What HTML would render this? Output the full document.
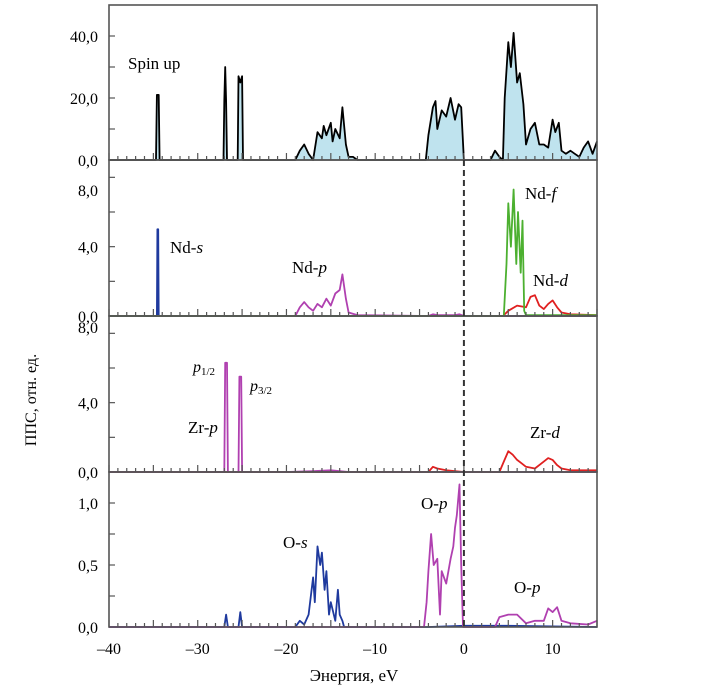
<!DOCTYPE html>
<html><head><meta charset="utf-8"><style>
body{margin:0;background:#fff;width:706px;height:694px;overflow:hidden}
svg text{font-family:"Liberation Serif",serif;fill:#000}
</style></head><body>
<svg id="c" width="706" height="694"></svg>
<script>
// ---- data (energy eV, value) ----
const xTicks=[-40,-30,-20,-10,0,10];
const totalE=[-40,-34.7,-34.6,-34.4,-34.3,-27.1,-27.0,-26.9,-26.8,-26.7,-25.5,-25.4,-25.2,-25.0,-24.9,-19,-18.5,-18,-17.5,-17,-16.5,-16,-15.8,-15.5,-15,-14.8,-14.5,-14,-13.7,-13.3,-13,-12.5,-12,-4.3,-4,-3.5,-3.2,-3,-2.5,-2,-1.5,-1,-0.6,-0.3,0,3,3.5,4,4.4,4.6,5,5.3,5.6,6,6.3,6.7,7,7.5,8,8.5,9,9.5,10,10.3,10.7,11,11.5,12,12.5,13,13.5,14,14.5,15];
const totalV=[0,0,21,21,0,0,19,30,19,0,0,27,25,27,0,0,3,5,2,0,9,7,11,8,12,6,10,7,17,5,1,1,0,0,8,17,19,10,16,14,20,13,18,17,0,0,3,1,0,20,38,30,41,25,28,18,5,10,12,5,5,4,13,9,12,3,2,3,2,1,4,6,2,6];
const ndS_E=[-40,-34.6,-34.55,-34.45,-34.4,15];
const ndS_V=[0,0,5.0,5.0,0,0];
const ndP_E=[-40,-19,-18.5,-18,-17.5,-17,-16.5,-16,-15.5,-15,-14.5,-14,-13.7,-13.3,-13,-12,-4,-3.5,-3,-1,-0.5,0,15];
const ndP_V=[0,0,0.5,0.8,0.5,0.3,0.7,0.5,1.0,0.6,1.3,1.5,2.4,1.0,0.2,0.05,0,0.1,0.05,0.05,0.1,0,0];
const ndF_E=[-40,4.5,4.8,5.0,5.3,5.6,5.9,6.1,6.4,6.6,6.8,7,15];
const ndF_V=[0,0,3,6.5,4,7.3,3,6,2.5,5.5,0.3,0.05,0.05];
const ndD_E=[4.5,5,6,7,7.5,8,8.5,9,9.5,10,10.5,11,12,15];
const ndD_V=[0.05,0.3,0.6,0.5,1.1,1.2,0.6,0.4,0.7,0.9,0.5,0.2,0.1,0.05];
const zrP_E=[-40,-27.0,-26.9,-26.7,-26.6,-25.4,-25.3,-25.1,-25.0,-20,-17,-15,-13,15];
const zrP_V=[0,0,6.3,6.3,0,0,5.5,5.5,0,0,0.05,0.1,0,0];
const zrD_E=[-40,-4,-3.5,-3,-2,0,4,4.5,5,5.5,6,6.5,7,8,9,9.5,10,10.5,11,12,15];
const zrD_V=[0,0,0.3,0.2,0.1,0,0,0.6,1.2,1.0,0.7,0.5,0.3,0.2,0.6,0.8,0.7,0.4,0.2,0.1,0.1];
const oS_E=[-40,-27,-26.8,-26.6,-25.4,-25.2,-25.0,-19,-18.5,-18,-17.5,-17,-16.8,-16.5,-16.2,-16,-15.7,-15.5,-15.2,-15,-14.5,-14.2,-14,-13.7,-13.5,-4,0,5,15];
const oS_V=[0,0,0.1,0,0,0.12,0,0,0.05,0.02,0.1,0.4,0.2,0.65,0.5,0.6,0.3,0.45,0.1,0.2,0.05,0.3,0.1,0.05,0,0,0.01,0.01,0];
const oP_E=[-40,-4.5,-4.2,-4,-3.7,-3.4,-3,-2.7,-2.5,-2,-1.5,-1.2,-1,-0.8,-0.5,-0.3,-0.1,3.5,4,5,6,7,8,9,9.5,10,10.5,11,12,14,15];
const oP_V=[0,0,0.2,0.45,0.75,0.5,0.55,0.1,0.45,0.35,0.55,0.65,0.8,0.9,1.15,0.5,0,0,0.08,0.1,0.1,0.03,0.05,0.05,0.15,0.12,0.16,0.05,0.03,0.02,0.05];

const NS='http://www.w3.org/2000/svg';
const svg=document.getElementById('c');
const X0=109,X1=597;
const xs=e=>X0+(e+40)*(X1-X0)/55;
function mk(tag,attrs,parent){const el=document.createElementNS(NS,tag);for(const k in attrs)el.setAttribute(k,attrs[k]);(parent||svg).appendChild(el);return el;}
const panels=[
 {top:5,bot:160,max:50,step:10,ticks:[0,20,40],lab:['0,0','20,0','40,0'],labY:[null,null,null]},
 {top:160,bot:316,max:9.0,step:2,ticks:[0,4,8],lab:['0,0','4,0','8,0'],labY:[null,null,190]},
 {top:316,bot:472,max:9.0,step:2,ticks:[0,4,8],lab:['0,0','4,0','8,0'],labY:[null,null,327]},
 {top:472,bot:627,max:1.25,step:0.25,ticks:[0,0.5,1.0],lab:['0,0','0,5','1,0'],labY:[null,null,null]}
];
function ys(p,v){return p.bot-v*(p.bot-p.top)/p.max;}
function series(p,E,V,color,name,fill){
  let d='';E.forEach((e,i)=>{d+=(i?'L':'M')+xs(e).toFixed(1)+','+ys(p,V[i]).toFixed(1);});
  if(fill){const f=mk('path',{d:d+'L'+xs(E[E.length-1])+','+p.bot+'L'+xs(E[0])+','+p.bot+'Z',fill:fill,stroke:'none'});
    
    }
  const l=mk('path',{d:d,fill:'none',stroke:color,'stroke-width':1.8,'stroke-linejoin':'round'});
  
  
}
series(panels[0],totalE,totalV,'#000','total-dos-line','#bfe3ee');
series(panels[1],ndS_E,ndS_V,'#1f3a9e','nd-s-line');
series(panels[1],ndD_E,ndD_V,'#e02020','nd-d-line');
series(panels[1],ndP_E,ndP_V,'#b040b0','nd-p-line');
series(panels[1],ndF_E,ndF_V,'#4cb030','nd-f-line');
series(panels[2],zrD_E,zrD_V,'#e02020','zr-d-line');
series(panels[2],zrP_E,zrP_V,'#b040b0','zr-p-line');
series(panels[3],oS_E,oS_V,'#1f3a9e','o-s-line');
series(panels[3],oP_E,oP_V,'#b040b0','o-p-line');

// axes
panels.forEach((p,i)=>{
  const r=mk('rect',{x:X0,y:p.top,width:X1-X0,height:p.bot-p.top,fill:'none',stroke:'#555','stroke-width':1.6});
  
  
  for(let e=-40;e<=15;e++){
    const len=(e%5===0)?7:4;
    const t=mk('line',{x1:xs(e),x2:xs(e),y1:p.bot,y2:p.bot-len,stroke:'#555','stroke-width':1.2});
    
    
  }
  for(let v=p.step;v<p.max;v+=p.step){
    const y=ys(p,v);
    const t=mk('line',{x1:X0,x2:X0+6,y1:y,y2:y,stroke:'#555','stroke-width':1.2});
    
    
  }
  p.ticks.forEach((v,j)=>{
    const y=p.labY[j]!==null?p.labY[j]:ys(p,v);
    const tx=mk('text',{x:98,y:y+6,'text-anchor':'end','font-size':16});
    tx.textContent=p.lab[j];
    
    
  });
});
const dl=mk('line',{x1:xs(0),x2:xs(0),y1:160,y2:627,stroke:'#333','stroke-width':2,'stroke-dasharray':'6,4'});


xTicks.forEach(v=>{
  const t=mk('text',{x:xs(v),y:654,'text-anchor':'middle','font-size':16});
  t.textContent=v<0?'\u2013'+(-v):String(v);
  
  
});
</script>
<svg width="706" height="694" style="position:absolute;left:0;top:0">
<text x="354" y="681" text-anchor="middle" font-size="17">Энергия, eV</text>
<text transform="translate(36,400) rotate(-90)" text-anchor="middle" font-size="16">ППС, отн. ед.</text>
<text x="128" y="69" font-size="17">Spin up</text>
<text x="170" y="253" font-size="17">Nd-<tspan font-style="italic">s</tspan></text>
<text x="292" y="273" font-size="17">Nd-<tspan font-style="italic">p</tspan></text>
<text x="525" y="199" font-size="17">Nd-<tspan font-style="italic">f</tspan></text>
<text x="533" y="286" font-size="17">Nd-<tspan font-style="italic">d</tspan></text>
<text x="193" y="372" font-size="16"><tspan font-style="italic">p</tspan><tspan font-size="11" dy="3">1/2</tspan></text>
<text x="250" y="391" font-size="16"><tspan font-style="italic">p</tspan><tspan font-size="11" dy="3">3/2</tspan></text>
<text x="188" y="433" font-size="17">Zr-<tspan font-style="italic">p</tspan></text>
<text x="530" y="438" font-size="17">Zr-<tspan font-style="italic">d</tspan></text>
<text x="283" y="548" font-size="17">O-<tspan font-style="italic">s</tspan></text>
<text x="421" y="509" font-size="17">O-<tspan font-style="italic">p</tspan></text>
<text x="514" y="593" font-size="17">O-<tspan font-style="italic">p</tspan></text>
</svg>
</body></html>
